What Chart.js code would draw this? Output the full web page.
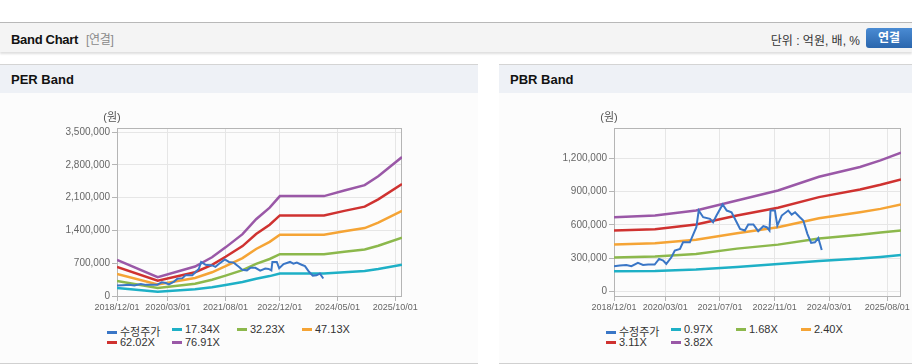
<!DOCTYPE html>
<html>
<head>
<meta charset="utf-8">
<script src="https://cdn.jsdelivr.net/npm/chart.js@4.4.1/dist/chart.umd.min.js"></script>
<style>
body { margin: 0; width: 912px; height: 364px; position: relative; overflow: hidden; background: #fff;
       font-family: "Liberation Sans", "Noto Sans CJK KR", sans-serif; }
.topbar { position: absolute; left: 0; top: 22px; width: 912px; height: 29px; border-top: 1px solid #b8b8b8;
          background: #f4f4f4; box-shadow: 0 2px 2px rgba(0,0,0,0.13); }
.topbar .ttl { position: absolute; left: 11px; top: 7px; font-size: 13px; font-weight: bold; color: #111; letter-spacing: -0.3px; }
.topbar .ttl span { font-weight: normal; color: #8a8a8a; margin-left: 8px; font-size: 12px; }
.topbar .unit { position: absolute; right: 52px; top: 8px; font-size: 12px; color: #333; }
.topbar .btn { position: absolute; left: 866px; top: 5px; width: 52px; height: 20px; border-radius: 3px;
               background: linear-gradient(#4a8bd3, #2a66ad); color: #fff; font-weight: bold; font-size: 12px;
               line-height: 20px; text-indent: 12px; }
.panel { position: absolute; top: 64px; height: 298px; border-top: 1px solid #d4d4d4; border-bottom: 1px solid #d0d0d0; background: #fcfcfc; }
.panel .head { height: 28px; background: #eef1f6; font-size: 13px; font-weight: bold; color: #111; line-height: 30px; padding-left: 11px; }
.panel canvas { position: absolute; left: 0; top: 28px; }
.legend { position: absolute; top: 258px; font-size: 11px; color: #333; display: grid;
          grid-template-columns: 65px 65px 65px 65px; grid-auto-rows: 13px; }
.legend .it { white-space: nowrap; }
.legend .mk { display: inline-block; width: 10px; height: 3px; vertical-align: middle; margin-right: 3px; position: relative; top: -1px; }
</style>
</head>
<body>
<div class="topbar">
  <div class="ttl">Band Chart<span>[연결]</span></div>
  <div class="unit">단위 : 억원, 배, %</div>
  <div class="btn">연결</div>
</div>
<div class="panel" style="left:0;width:478px;">
  <div class="head">PER Band</div>
  <canvas id="perChart" width="478" height="226"></canvas>
  <div class="legend" id="perLegend" style="left:107px;"></div>
</div>
<div class="panel" style="left:499px;width:413px;">
  <div class="head">PBR Band</div>
  <canvas id="pbrChart" width="413" height="226"></canvas>
  <div class="legend" id="pbrLegend" style="left:107px;"></div>
</div>
<script>
var priceLabel = '수정주가';
var perBandLabels = ['17.34X', '32.23X', '47.13X', '62.02X', '76.91X'];
var pbrBandLabels = ['0.97X', '1.68X', '2.40X', '3.11X', '3.82X'];

var perXTicks = ['2018/12/01', '2020/03/01', '2021/08/01', '2022/12/01', '2024/05/01', '2025/10/01'];
var pbrXTicks = ['2018/12/01', '2020/03/01', '2021/07/01', '2022/11/01', '2024/03/01', '2025/08/01'];
var perYTicks = [0, 700000, 1400000, 2100000, 2800000, 3500000];
var pbrYTicks = [0, 300000, 600000, 900000, 1200000];

// 수정주가
var priceDates = ['2018/12/01', '2019/01/22', '2019/03/19', '2019/05/04', '2019/07/01', '2019/08/16', '2019/10/01',
    '2019/11/28', '2020/01/07', '2020/02/13', '2020/03/10', '2020/04/25', '2020/05/25', '2020/07/10', '2020/08/07',
    '2020/10/07', '2020/12/04', '2020/12/25', '2021/02/04', '2021/04/04', '2021/05/01', '2021/06/01', '2021/07/25',
    '2021/09/01', '2021/10/13', '2021/11/28', '2021/12/28', '2022/02/10', '2022/03/10', '2022/04/25', '2022/06/07',
    '2022/07/22', '2022/08/22', '2022/09/16', '2022/09/25', '2022/11/04', '2022/11/25', '2023/01/04', '2023/03/01',
    '2023/04/01', '2023/05/01', '2023/06/13', '2023/07/13', '2023/08/19', '2023/09/22', '2023/10/25', '2023/11/25',
    '2023/12/10', '2023/12/25'];
var priceValues = [226000, 232000, 238000, 226000, 256000, 238000, 241000,
    241000, 292000, 277000, 247000, 307000, 367000, 382000, 442000,
    442000, 578000, 728000, 668000, 653000, 623000, 683000, 783000,
    728000, 713000, 623000, 562000, 548000, 602000, 602000, 542000,
    587000, 578000, 548000, 728000, 728000, 593000, 683000, 728000,
    692000, 713000, 668000, 638000, 518000, 436000, 442000, 479000,
    427000, 373000];

// PER 밴드
var perBandDates = ['2018/12/01', '2019/12/01', '2020/11/01', '2021/04/01', '2021/08/01', '2022/01/01', '2022/05/01',
    '2022/09/01', '2022/12/01', '2024/01/01', '2024/07/01', '2025/01/01', '2025/05/01', '2025/12/01'];
var per1734 = [173700, 90900, 141800, 186400, 234300, 298100, 369900, 425500, 481400, 481400, 508600, 534100, 577100, 669500];
var per3223 = [322900, 168900, 263600, 346500, 435400, 554000, 687500, 790900, 894700, 894700, 945300, 992700, 1072600, 1244400];
var per4713 = [472200, 247000, 385500, 506600, 636700, 810200, 1005300, 1156600, 1308300, 1308300, 1382300, 1451600, 1568500, 1819700];
var per6202 = [621400, 325000, 507300, 666700, 837900, 1066100, 1322900, 1522000, 1721700, 1721700, 1819000, 1910200, 2064000, 2394600];
var per7691 = [770600, 403000, 629100, 826800, 1039100, 1322100, 1640500, 1887400, 2135000, 2135000, 2255800, 2368800, 2559600, 2969500];

// PBR 밴드
var pbrBandDates = ['2018/12/01', '2019/12/01', '2020/12/01', '2021/12/01', '2022/12/01', '2023/12/01', '2024/12/01',
    '2025/06/01', '2025/12/01'];
var pbr097 = [181000, 184000, 196000, 220000, 247000, 274000, 295000, 310000, 328000];
var pbr168 = [304000, 313000, 337000, 385000, 421000, 476000, 509000, 530000, 548000];
var pbr240 = [421000, 433000, 464000, 524000, 578000, 659000, 713000, 743000, 783000];
var pbr311 = [548000, 560000, 602000, 683000, 753000, 849000, 918000, 960000, 1008000];
var pbr382 = [668000, 683000, 728000, 819000, 909000, 1032000, 1120000, 1180000, 1249000];

var priceColor = '#3a76c6';
var bandColors = ['#1eb0c6', '#8cb84c', '#f5a435', '#cf3230', '#9a58a7'];

Chart.defaults.font.family = '"Liberation Sans", "Noto Sans CJK KR", sans-serif';
Chart.defaults.font.size = 10;
Chart.defaults.color = '#666';

// 날짜 -> 2018/12 기준 개월 수
function toMonth(d) {
    var p = d.split('/').map(Number);
    return (p[0] - 2018) * 12 + (p[1] - 12) + (p[2] - 1) / 30;
}

function toPoints(dates, values) {
    return dates.map(function (d, i) { return { x: toMonth(d), y: values[i] }; });
}

var framePlugin = {
    id: 'frame',
    beforeDatasetsDraw: function (chart) {
        var a = chart.chartArea, ctx = chart.ctx;
        ctx.save();
        ctx.strokeStyle = '#b5b5b5';
        ctx.lineWidth = 1;
        ctx.strokeRect(Math.round(a.left) + 0.5, Math.round(a.top) + 0.5,
            Math.round(a.right - a.left) - 1, Math.round(a.bottom - a.top));
        ctx.fillStyle = '#555';
        ctx.font = '11px "Liberation Sans", "Noto Sans CJK KR", sans-serif';
        ctx.textAlign = 'center';
        ctx.textBaseline = 'middle';
        ctx.fillText('(원)', a.left - 5, a.top - 10);
        ctx.restore();
    }
};

function drawChart(canvasId, legendId, bandDates, bands, bandLabels, xTicks, yTicks, yMin, yMax, yWidth, rightPad) {
    var datasets = [{
        label: priceLabel,
        data: toPoints(priceDates, priceValues),
        borderColor: priceColor,
        borderWidth: 2
    }];
    bands.forEach(function (vals, i) {
        datasets.push({
            label: bandLabels[i],
            data: toPoints(bandDates, vals),
            borderColor: bandColors[i],
            borderWidth: 2.5
        });
    });

    var ctx = document.getElementById(canvasId).getContext('2d');
    var chart = new Chart(ctx, {
        type: 'line',
        data: { datasets: datasets },
        options: {
            responsive: false,
            animation: false,
            devicePixelRatio: 1,
            layout: { padding: { left: 0, right: rightPad, top: 35, bottom: 0 } },
            elements: { point: { radius: 0 }, line: { tension: 0 } },
            plugins: { legend: { display: false }, tooltip: { enabled: false } },
            scales: {
                x: {
                    type: 'linear',
                    min: 0,
                    max: toMonth('2025/12/01'),
                    grid: { color: '#e6e6e6', tickColor: '#b5b5b5', tickLength: 5 },
                    border: { display: false },
                    ticks: {
                        autoSkip: false, maxRotation: 0, padding: 1, color: '#666', font: { size: 9 },
                        callback: function (v) {
                            for (var i = 0; i < xTicks.length; i++) {
                                if (Math.abs(toMonth(xTicks[i]) - v) < 0.01) return xTicks[i];
                            }
                            return '';
                        }
                    },
                    afterBuildTicks: function (s) {
                        s.ticks = xTicks.map(function (t) { return { value: toMonth(t) }; });
                    },
                    afterFit: function (s) { s.height = 23; s.paddingLeft = 0; s.paddingRight = 0; }
                },
                y: {
                    min: yMin,
                    max: yMax,
                    grid: { color: '#e6e6e6', tickColor: '#b5b5b5', tickLength: 5 },
                    border: { display: false },
                    ticks: {
                        padding: 2, color: '#666',
                        callback: function (v) { return v.toLocaleString('en-US'); }
                    },
                    afterBuildTicks: function (s) {
                        s.ticks = yTicks.map(function (t) { return { value: t }; });
                    },
                    afterFit: function (s) { s.width = yWidth; s.paddingTop = 0; s.paddingBottom = 0; }
                }
            }
        },
        plugins: [framePlugin]
    });

    // 범례
    var legend = document.getElementById(legendId);
    chart.data.datasets.forEach(function (ds) {
        var it = document.createElement('div');
        it.className = 'it';
        it.innerHTML = '<span class="mk" style="background:' + ds.borderColor + '"></span>' + ds.label;
        legend.appendChild(it);
    });
    return chart;
}

drawChart('perChart', 'perLegend', perBandDates, [per1734, per3223, per4713, per6202, per7691], perBandLabels,
    perXTicks, perYTicks, 0, 3590000, 117, 76);
drawChart('pbrChart', 'pbrLegend', pbrBandDates, [pbr097, pbr168, pbr240, pbr311, pbr382], pbrBandLabels,
    pbrXTicks, pbrYTicks, -42000, 1472000, 115, 11);
</script>
</body>
</html>
